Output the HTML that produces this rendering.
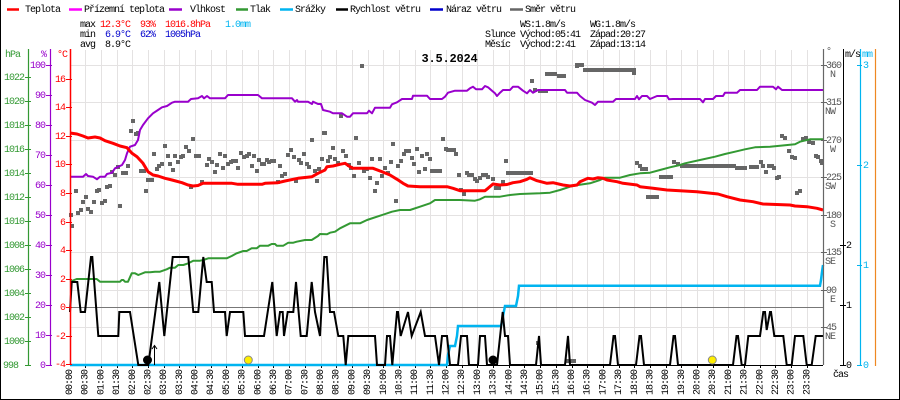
<!DOCTYPE html>
<html><head><meta charset="utf-8"><style>
html,body{margin:0;padding:0;background:#fff;}
svg{display:block;}
text{font-family:"Liberation Mono","DejaVu Sans Mono",monospace;font-size:10px;letter-spacing:-1px;}
</style></head><body>
<svg width="900" height="400" viewBox="0 0 900 400" xmlns="http://www.w3.org/2000/svg">
<rect x="0" y="0" width="900" height="400" fill="#fff"/>
<path d="M0.5,0 V399.5 H899.5 V0" fill="none" stroke="#000" stroke-width="1"/>

<path stroke="#e4e2e2" stroke-width="1" fill="none" shape-rendering="crispEdges" d="
M85.5,50V365 M101.5,50V365 M117.5,50V365 M132.5,50V365 M148.5,50V365 M164.5,50V365 M179.5,50V365 M195.5,50V365 M211.5,50V365 M226.5,50V365 M242.5,50V365 M258.5,50V365 M273.5,50V365 M289.5,50V365 M305.5,50V365 M321.5,50V365 M336.5,50V365 M352.5,50V365 M368.5,50V365 M383.5,50V365 M399.5,50V365 M415.5,50V365 M430.5,50V365 M446.5,50V365 M462.5,50V365 M477.5,50V365 M493.5,50V365 M509.5,50V365 M524.5,50V365 M540.5,50V365 M556.5,50V365 M572.5,50V365 M587.5,50V365 M603.5,50V365 M619.5,50V365 M634.5,50V365 M650.5,50V365 M666.5,50V365 M681.5,50V365 M697.5,50V365 M713.5,50V365 M728.5,50V365 M744.5,50V365 M760.5,50V365 M775.5,50V365 M791.5,50V365 M807.5,50V365"/>
<path stroke="#e4e2e2" stroke-width="1" fill="none" shape-rendering="crispEdges" d="
M70,65.5H823 M70,102.5H823 M70,140.5H823 M70,177.5H823 M70,215.5H823 M70,252.5H823 M70,290.5H823 M70,327.5H823"/>
<path d="M70,307.5H823" stroke="#777" stroke-width="1" shape-rendering="crispEdges"/>

<path stroke="#000" stroke-width="1" fill="none" shape-rendering="crispEdges" d="M70,365.5H823
M85.5,366V368 M101.5,366V368 M117.5,366V368 M132.5,366V368 M148.5,366V368 M164.5,366V368 M179.5,366V368 M195.5,366V368 M211.5,366V368 M226.5,366V368 M242.5,366V368 M258.5,366V368 M273.5,366V368 M289.5,366V368 M305.5,366V368 M321.5,366V368 M336.5,366V368 M352.5,366V368 M368.5,366V368 M383.5,366V368 M399.5,366V368 M415.5,366V368 M430.5,366V368 M446.5,366V368 M462.5,366V368 M477.5,366V368 M493.5,366V368 M509.5,366V368 M524.5,366V368 M540.5,366V368 M556.5,366V368 M572.5,366V368 M587.5,366V368 M603.5,366V368 M619.5,366V368 M634.5,366V368 M650.5,366V368 M666.5,366V368 M681.5,366V368 M697.5,366V368 M713.5,366V368 M728.5,366V368 M744.5,366V368 M760.5,366V368 M775.5,366V368 M791.5,366V368 M807.5,366V368"/>

<path fill="#666" d="
M69,213h4v4h-4z M70,224h4v4h-4z M74,189h4v4h-4z M76,211h4v4h-4z M79,208h4v4h-4z M81,200h4v4h-4z M84,195h4v4h-4z M86,207h4v4h-4z M89,210h4v4h-4z M92,200h4v4h-4z M95,189h4v4h-4z M97,188h4v4h-4z M100,201h4v4h-4z M103,199h4v4h-4z M105,185h4v4h-4z M108,184h4v4h-4z M110,170h4v4h-4z M113,173h4v4h-4z M116,165h4v4h-4z M118,204h4v4h-4z M121,171h4v4h-4z M124,171h4v4h-4z M126,164h4v4h-4z M129,129h4v4h-4z M131,119h4v4h-4z M134,132h4v4h-4z M136,131h4v4h-4z M139,169h4v4h-4z M142,169h4v4h-4z M144,189h4v4h-4z M146,178h4v4h-4z M150,178h4v4h-4z M152,152h4v4h-4z M155,167h4v4h-4z M157,164h4v4h-4z M160,162h4v4h-4z M163,144h4v4h-4z M166,154h4v4h-4z M168,162h4v4h-4z M171,168h4v4h-4z M173,154h4v4h-4z M176,160h4v4h-4z M179,155h4v4h-4z M181,154h4v4h-4z M184,145h4v4h-4z M187,149h4v4h-4z M189,185h4v4h-4z M191,137h4v4h-4z M194,154h4v4h-4z M197,154h4v4h-4z M200,180h4v4h-4z M205,163h4v4h-4z M207,157h4v4h-4z M210,160h4v4h-4z M213,170h4v4h-4z M215,163h4v4h-4z M218,152h4v4h-4z M221,166h4v4h-4z M223,154h4v4h-4z M226,162h4v4h-4z M229,160h4v4h-4z M231,159h4v4h-4z M234,159h4v4h-4z M236,166h4v4h-4z M239,151h4v4h-4z M242,155h4v4h-4z M245,154h4v4h-4z M247,152h4v4h-4z M250,164h4v4h-4z M252,154h4v4h-4z M255,169h4v4h-4z M257,158h4v4h-4z M260,162h4v4h-4z M262,162h4v4h-4z M265,158h4v4h-4z M267,160h4v4h-4z M270,159h4v4h-4z M272,159h4v4h-4z M276,180h4v4h-4z M278,164h4v4h-4z M280,174h4v4h-4z M283,172h4v4h-4z M286,153h4v4h-4z M289,148h4v4h-4z M292,155h4v4h-4z M294,179h4v4h-4z M297,158h4v4h-4z M299,161h4v4h-4z M302,152h4v4h-4z M305,162h4v4h-4z M307,165h4v4h-4z M310,138h4v4h-4z M313,169h4v4h-4z M315,179h4v4h-4z M317,167h4v4h-4z M320,157h4v4h-4z M322,131h4v4h-4z
M360,64h4v4h-4z M323,131h4v4h-4z M326,159h4v4h-4z M328,155h4v4h-4z M331,146h4v4h-4z M333,157h4v4h-4z M336,161h4v4h-4z M339,114h4v4h-4z M341,149h4v4h-4z M344,154h4v4h-4z M347,163h4v4h-4z M349,166h4v4h-4z M352,174h4v4h-4z M354,136h4v4h-4z M357,161h4v4h-4z M362,169h4v4h-4z M365,167h4v4h-4z M368,176h4v4h-4z M370,157h4v4h-4z M373,189h4v4h-4z M375,181h4v4h-4z M378,157h4v4h-4z M380,174h4v4h-4z M383,166h4v4h-4z M386,171h4v4h-4z M389,160h4v4h-4z M391,142h4v4h-4z M394,199h4v4h-4z M396,164h4v4h-4z M399,159h4v4h-4z M402,152h4v4h-4z M404,149h4v4h-4z M407,149h4v4h-4z M410,156h4v4h-4z M412,162h4v4h-4z M415,147h4v4h-4z M417,170h4v4h-4z M420,154h4v4h-4z M423,167h4v4h-4z M425,152h4v4h-4z M428,157h4v4h-4z M441,137h4v4h-4z M444,147h4v4h-4z M454,152h4v4h-4z M457,173h4v4h-4z M459,188h4v4h-4z M462,192h4v4h-4z M465,171h4v4h-4z M467,173h4v4h-4z M470,173h4v4h-4z M473,177h4v4h-4z M475,179h4v4h-4z M478,176h4v4h-4z M486,175h4v4h-4z M491,177h4v4h-4z M494,186h4v4h-4z M497,186h4v4h-4z M501,180h4v4h-4z M504,159h4v4h-4z M530,79h4v4h-4z M533,88h4v4h-4z M575,64h4v4h-4z
M430,169h12v4h-12z M446,148h10v4h-10z M481,173h7v4h-7z M538,89h10v4h-10z M545,72h12v4h-12z M557,74h9v4h-9z M506,171h27v4h-27z
M575,63h9v4h-9z M583,68h51v4h-51z M632,68h4v7h-4z M635,161h4v4h-4z M638,164h4v4h-4z M640,167h8v4h-8z M646,195h13v4h-13z M659,175h14v4h-14z M672,160h4v4h-4z M676,162h4v4h-4z M680,164h56v4h-56z M735,166h12v4h-12z M749,165h10v4h-10z M759,160h4v4h-4z M761,164h4v4h-4z M764,170h4v4h-4z M767,164h7v4h-7z M772,166h4v4h-4z M775,176h4v4h-4z M777,175h4v4h-4z M780,134h4v4h-4z M783,136h4v4h-4z M787,149h4v4h-4z M790,155h4v4h-4z M793,156h4v4h-4z M795,191h4v4h-4z M798,189h4v4h-4z M801,137h4v4h-4z M804,136h4v4h-4z M807,140h4v4h-4z M811,141h4v4h-4z M814,154h4v4h-4z M816,155h4v4h-4z M819,159h4v4h-4z M820,161h3v4h-3z
M536,341h4v4h-4z M565,359h11v4h-11z"/>

<polyline fill="none" stroke="#339933" stroke-width="2" stroke-linejoin="round" points="70,281.7 76.7,279 96.7,279 100,281.7 120,281.7 121.7,280 123.3,280 125,281.7 128,281.7 131.7,273.3 135,273.3 138.3,275 145,272.3 150,272.3 155,271.7 160,271.7 166.7,269.3 170,267.7 175,267.7 178.3,265 183.3,265 188.3,263.3 193.3,260.7 200,260.7 203.3,260 208.3,258.3 226.7,258.3 231.7,256 236.7,253.3 243.3,251 246.7,251 251.7,248.3 256.7,248.3 260,245.7 268.3,245.7 271.7,244 275,244 276.7,245.7 283.3,245.7 288.3,242.7 293.3,242.7 296.7,241.7 305,240 311.7,240 318,236 320,234 327,234.3 330,232.7 335,231.7 340,228.3 350,223.3 360,223.3 367,220 380,215.7 392,211.7 400,210 410,210 420,206.7 430,203.3 435,200 460,200 475,200.7 480,199.3 485,196.7 500,196.7 510,195 520,194 540,193.3 550,192.7 560,190 570,186.7 578,185 590,183.3 600,180 605,177.7 620,177.7 630,175 640,173.3 650,172.7 660,170 670,167.3 680,165 685,163.3 700,160 715,156.7 725,154 735,151.7 745,149.3 755,147.3 770,146.7 795,144.3 800,141.7 810,139.3 823,139.3"/>

<polyline fill="none" stroke="#9900cc" stroke-width="2" stroke-linejoin="round" points="70,176.7 83,176.7 86,174 88,176 93,176.7 97,179.3 100,176.7 105,176.7 107,174 112,172.7 115,168.3 122,165 125,160 127,153.3 130,146.7 135,145 138,140 140,130 143,125 148,118.3 153,113.3 158,110 162,107.3 167,106 172,102.7 175,101.7 188,101.7 191,99 198,98.3 202,96 204,98.3 207,96 210,98.3 225,98.3 228,95 258,95 262,98.3 292,98.3 295,101.7 297,100 298,101.7 308,101.7 312,104 313,101.7 318,104 321,104 323,110 330,111.7 333,113.3 342,113.3 347,116.7 350,116.7 353,113.3 367,113.3 369,110.7 372,113.3 375,107.7 390,107.7 392,104.3 397,102.3 402,99 412,99 413,95.7 427,95.7 430,99 442,99 445,96.7 448,92.7 455,90.7 467,90.7 470,88.3 473,86.7 476,89.3 482,89.3 485,86 488,87.3 492,90.7 495,93.3 497,96 500,92.7 503,90 510,90 513,86.7 518,86.7 523,90.7 527,93.3 530,90 533,92.7 538,90 565,90 567,92.7 577,92.7 580,96 585,100 592,102.7 595,105 598,101.7 613,101.7 616,99 635,99 637,96 639,99.3 642,96 647,96 650,99 657,96 667,96 669,99.3 673,99 700,99 703,102.3 705,99 713,99 716,96 723,96 725,92.7 737,92.7 740,90 757,90 760,86.7 773,86.7 776,89.3 778,86.7 782,90 823,90"/>

<polyline fill="none" stroke="#ff0000" stroke-width="3" stroke-linejoin="round" points="70,133 77,134 83,136 88,138 95,137 100,138 105,140.7 113,143.3 120,146 127,147.7 132,153.3 137,156.7 143,163.3 148,171.7 153,175 158,176 165,178.3 172,180 182,182.7 188,185 193,186 198,185.5 203,183.3 232,183.3 238,184.3 262,184.3 265,183.3 278,182.7 285,181 298,178.3 312,176.7 318,173.3 325,170 327,166.7 333,166 340,164.3 345,163.3 350,166.7 353,168.3 373,168.3 382,171.7 390,175 397,179.3 403,183.3 408,186 420,186.7 447,186.7 453,188.3 460,190.7 485,190.7 488,188.3 493,184 500,185 507,184.5 513,182.7 520,181.7 527,179.3 530,177.7 537,180.7 547,183.3 553,182.7 563,185 570,186 577,185 580,181.7 588,178.3 593,179 598,177.7 603,178.3 607,180 617,181.7 623,183.3 637,185 640,186.7 653,188.3 667,190 697,191.7 718,194 727,196.7 740,200 753,201.7 763,204 790,205 795,206 807,206.7 817,208.3 823,210"/>

<polyline fill="none" stroke="#00b4f0" stroke-width="2.5" points="70,365 447,365 448,355 450,346 455,346 457,336 458,326 501,326 503,316 505,306 516,306 518,296 519,285.7 820,285.7 821,280 822,272 823,265"/>

<polyline fill="none" stroke="#000" stroke-width="2" stroke-linejoin="miter" points="70,312 71.7,282 77.3,282 80.7,312 85,312 91,257 92.3,257 98.3,336 118.3,336 119.3,312 130,312 138.3,365 148.3,365 159.3,282 164.3,336 172.7,257 188.3,257 193.3,312 198.3,312 203.3,257 206.7,282 211.7,282 214,312 225,312 226.7,336 230,312 243.3,312 245,336 264,336 272.3,282 276.7,336 280,312 282.7,312 284,336 287.7,312 293.3,312 296,282 300.7,336 306.7,336 311.7,282 315,312 320,336 324.3,257 326.7,257 330,312 334,312 338.3,336 343.3,336 345.7,365 348.3,336 375,336 377,365 385,365 387,336 390,336 392.3,365 397,312 398,312 400.7,336 408,312 411.7,336 420.7,312 425,336 435,336 439,365 442,336 447,336 450,365 458,365 461,336 467,336 469,365 478,365 480,336 485,336 487,365 497,365 502.7,312 505,336 508,336 510,365 536,365 539,336 541,365 565,365 568,336 570,365 610,365 613.5,336 615,336 618,365 636,365 639.5,336 641,336 644,365 670,365 673.5,336 675,336 678,365 733,365 736.5,336 738,336 741.7,365 745,365 748.3,336 760,336 763.3,312 765,312 766.7,330 770,312 771,312 774.3,336 783.3,336 786.7,365 791.7,365 795,336 803.3,336 806.7,365 811.7,365 815.7,336 823,336"/>

<circle cx="147.5" cy="360" r="4.5" fill="#000"/>
<path d="M154.5,365V346 M152,349L154.5,345.5L157,349" fill="none" stroke="#000" stroke-width="1"/>
<circle cx="493" cy="360" r="4.5" fill="#000"/>
<circle cx="248.3" cy="360" r="4" fill="#ffee00" stroke="#888" stroke-width="1"/>
<circle cx="712.3" cy="360" r="4" fill="#ffee00" stroke="#888" stroke-width="1"/>

<path d="M28.5,49V365" stroke="#339933" stroke-width="1.2"/>
<path d="M50.5,49V365" stroke="#9900cc" stroke-width="1.2"/>
<path d="M70.5,49V365" stroke="#ff0000" stroke-width="1.5"/>
<path stroke="#339933" stroke-width="1" shape-rendering="crispEdges" d="M25,77.5h6 M25,101.5h6 M25,125.5h6 M25,149.5h6 M25,173.5h6 M25,197.5h6 M25,221.5h6 M25,245.5h6 M25,269.5h6 M25,293.5h6 M25,317.5h6 M25,341.5h6 M25,365.5h6"/>
<path stroke="#9900cc" stroke-width="1" shape-rendering="crispEdges" d="M46,65.5h6 M46,95.5h6 M46,125.5h6 M46,155.5h6 M46,185.5h6 M46,215.5h6 M46,245.5h6 M46,275.5h6 M46,305.5h6 M46,335.5h6 M46,365.5h6"/>
<path stroke="#ff0000" stroke-width="1" shape-rendering="crispEdges" d="M66,79.5h6 M66,107.5h6 M66,136.5h6 M66,164.5h6 M66,193.5h6 M66,222.5h6 M66,250.5h6 M66,279.5h6 M66,307.5h6 M66,336.5h6 M66,364.5h6"/>
<g fill="#339933">
<text x="5" y="57">hPa</text>
<text x="4" y="80">1022</text><text x="4" y="104">1020</text><text x="4" y="128">1018</text><text x="4" y="152">1016</text><text x="4" y="176">1014</text><text x="4" y="200">1012</text><text x="4" y="224">1010</text><text x="4" y="248">1008</text><text x="4" y="272">1006</text><text x="4" y="296">1004</text><text x="4" y="320">1002</text><text x="4" y="344">1000</text><text x="3" y="368">998</text>
</g>
<g fill="#9900cc" text-anchor="end">
<text x="46" y="57">%</text>
<text x="45" y="68">100</text><text x="45" y="98">90</text><text x="45" y="128">80</text><text x="45" y="158">70</text><text x="45" y="188">60</text><text x="45" y="218">50</text><text x="45" y="248">40</text><text x="45" y="278">30</text><text x="45" y="308">20</text><text x="45" y="338">10</text><text x="45" y="368">0</text>
</g>
<g fill="#ff0000" text-anchor="end">
<text x="67" y="57">°C</text>
<text x="65" y="82">16</text><text x="65" y="110">14</text><text x="65" y="139">12</text><text x="65" y="167">10</text><text x="65" y="196">8</text><text x="65" y="225">6</text><text x="65" y="253">4</text><text x="65" y="282">2</text><text x="65" y="310">0</text><text x="65" y="339">-2</text><text x="65" y="367">-4</text>
</g>

<path d="M823.5,49V365" stroke="#666" stroke-width="1.2"/>
<path d="M843.5,49V365" stroke="#000" stroke-width="1"/>
<path d="M860.5,49V365" stroke="#00b4f0" stroke-width="1.2"/>
<path d="M875.5,49V366" stroke="#ee8822" stroke-width="1.2"/>
<path stroke="#666" stroke-width="1" shape-rendering="crispEdges" d="M821,65.5h6 M821,102.5h6 M821,140.5h6 M821,177.5h6 M821,215.5h6 M821,252.5h6 M821,290.5h6 M821,327.5h6"/>
<path stroke="#000" stroke-width="1" shape-rendering="crispEdges" d="M840,245.5h6 M840,305.5h6 M840,365.5h6"/>
<path stroke="#00b4f0" stroke-width="1" shape-rendering="crispEdges" d="M857,65.5h5 M857,165.5h5 M857,265.5h5 M857,365.5h5"/>
<g fill="#555">
<text x="826" y="54">°</text>
<text x="826" y="68">360</text><text x="835" y="77" text-anchor="end">N</text>
<text x="826" y="105">315</text><text x="835" y="114" text-anchor="end">NW</text>
<text x="826" y="143">270</text><text x="835" y="152" text-anchor="end">W</text>
<text x="826" y="180">225</text><text x="835" y="189" text-anchor="end">SW</text>
<text x="826" y="218">180</text><text x="835" y="227" text-anchor="end">S</text>
<text x="826" y="255">135</text><text x="835" y="264" text-anchor="end">SE</text>
<text x="826" y="293">90</text><text x="835" y="302" text-anchor="end">E</text>
<text x="826" y="330">45</text><text x="835" y="339" text-anchor="end">NE</text>
</g>
<g fill="#000">
<text x="845" y="57">m/s</text>
<text x="846" y="248">2</text><text x="846" y="308">1</text><text x="846" y="368">0</text>
<text x="833" y="377">čas</text>
</g>
<g fill="#00b4f0">
<text x="862" y="57">mm</text>
<text x="863" y="68">3</text><text x="863" y="168">2</text><text x="863" y="268">1</text><text x="863" y="368">0</text>
</g>

<g fill="#000">
<text transform="translate(72,395) rotate(-90)">00:00</text>
<text transform="translate(87.7,395) rotate(-90)">00:30</text>
<text transform="translate(103.4,395) rotate(-90)">01:00</text>
<text transform="translate(119.1,395) rotate(-90)">01:30</text>
<text transform="translate(134.8,395) rotate(-90)">02:00</text>
<text transform="translate(150.4,395) rotate(-90)">02:30</text>
<text transform="translate(166.1,395) rotate(-90)">03:00</text>
<text transform="translate(181.8,395) rotate(-90)">03:30</text>
<text transform="translate(197.5,395) rotate(-90)">04:00</text>
<text transform="translate(213.2,395) rotate(-90)">04:30</text>
<text transform="translate(228.9,395) rotate(-90)">05:00</text>
<text transform="translate(244.6,395) rotate(-90)">05:30</text>
<text transform="translate(260.3,395) rotate(-90)">06:00</text>
<text transform="translate(275.9,395) rotate(-90)">06:30</text>
<text transform="translate(291.6,395) rotate(-90)">07:00</text>
<text transform="translate(307.3,395) rotate(-90)">07:30</text>
<text transform="translate(323,395) rotate(-90)">08:00</text>
<text transform="translate(338.7,395) rotate(-90)">08:30</text>
<text transform="translate(354.4,395) rotate(-90)">09:00</text>
<text transform="translate(370.1,395) rotate(-90)">09:30</text>
<text transform="translate(385.8,395) rotate(-90)">10:00</text>
<text transform="translate(401.4,395) rotate(-90)">10:30</text>
<text transform="translate(417.1,395) rotate(-90)">11:00</text>
<text transform="translate(432.8,395) rotate(-90)">11:30</text>
<text transform="translate(448.5,395) rotate(-90)">12:00</text>
<text transform="translate(464.2,395) rotate(-90)">12:30</text>
<text transform="translate(479.9,395) rotate(-90)">13:00</text>
<text transform="translate(495.6,395) rotate(-90)">13:30</text>
<text transform="translate(511.3,395) rotate(-90)">14:00</text>
<text transform="translate(526.9,395) rotate(-90)">14:30</text>
<text transform="translate(542.6,395) rotate(-90)">15:00</text>
<text transform="translate(558.3,395) rotate(-90)">15:30</text>
<text transform="translate(574,395) rotate(-90)">16:00</text>
<text transform="translate(589.7,395) rotate(-90)">16:30</text>
<text transform="translate(605.4,395) rotate(-90)">17:00</text>
<text transform="translate(621.1,395) rotate(-90)">17:30</text>
<text transform="translate(636.8,395) rotate(-90)">18:00</text>
<text transform="translate(652.4,395) rotate(-90)">18:30</text>
<text transform="translate(668.1,395) rotate(-90)">19:00</text>
<text transform="translate(683.8,395) rotate(-90)">19:30</text>
<text transform="translate(699.5,395) rotate(-90)">20:00</text>
<text transform="translate(715.2,395) rotate(-90)">20:30</text>
<text transform="translate(730.9,395) rotate(-90)">21:00</text>
<text transform="translate(746.6,395) rotate(-90)">21:30</text>
<text transform="translate(762.3,395) rotate(-90)">22:00</text>
<text transform="translate(777.9,395) rotate(-90)">22:30</text>
<text transform="translate(793.6,395) rotate(-90)">23:00</text>
<text transform="translate(809.3,395) rotate(-90)">23:30</text>
</g>

<text x="449.5" y="62" text-anchor="middle" style="font-size:12px;font-weight:bold;letter-spacing:-0.2px" fill="#000">3.5.2024</text>

<g stroke-width="2.5">
<path d="M7,9.5H19" stroke="#ff0000"/>
<path d="M69,9.5H82" stroke="#ff00ff"/>
<path d="M169,9.5H182" stroke="#9900cc"/>
<path d="M236,9.5H248" stroke="#339933"/>
<path d="M280,9.5H293" stroke="#00b4f0"/>
<path d="M336,9.5H348" stroke="#000"/>
<path d="M430,9.5H443" stroke="#0000cc"/>
<path d="M510,9.5H523" stroke="#666"/>
</g>
<g fill="#000">
<text x="25" y="12">Teplota</text>
<text x="84" y="12">Přízemní teplota</text>
<text x="190" y="12">Vlhkost</text>
<text x="250" y="12">Tlak</text>
<text x="295" y="12">Srážky</text>
<text x="350" y="12">Rychlost větru</text>
<text x="446" y="12">Náraz větru</text>
<text x="525" y="12">Směr větru</text>
</g>

<g fill="#000">
<text x="80" y="27">max</text>
<text x="80" y="37">min</text>
<text x="80" y="47">avg</text>
<text x="105" y="47">8.9°C</text>
<text x="520" y="27">WS:1.8m/s</text>
<text x="590" y="27">WG:1.8m/s</text>
<text x="485" y="37">Slunce</text>
<text x="520" y="37">Východ:05:41</text>
<text x="590" y="37">Západ:20:27</text>
<text x="485" y="47">Měsíc</text>
<text x="520" y="47">Východ:2:41</text>
<text x="590" y="47">Západ:13:14</text>
</g>
<g fill="#ff0000">
<text x="100" y="27">12.3°C</text>
<text x="140" y="27">93%</text>
<text x="165" y="27">1016.8hPa</text>
</g>
<text x="225" y="27" fill="#00b4f0">1.0mm</text>
<g fill="#0000cc">
<text x="105" y="37">6.9°C</text>
<text x="140" y="37">62%</text>
<text x="165" y="37">1005hPa</text>
</g>
</svg>
</body></html>
